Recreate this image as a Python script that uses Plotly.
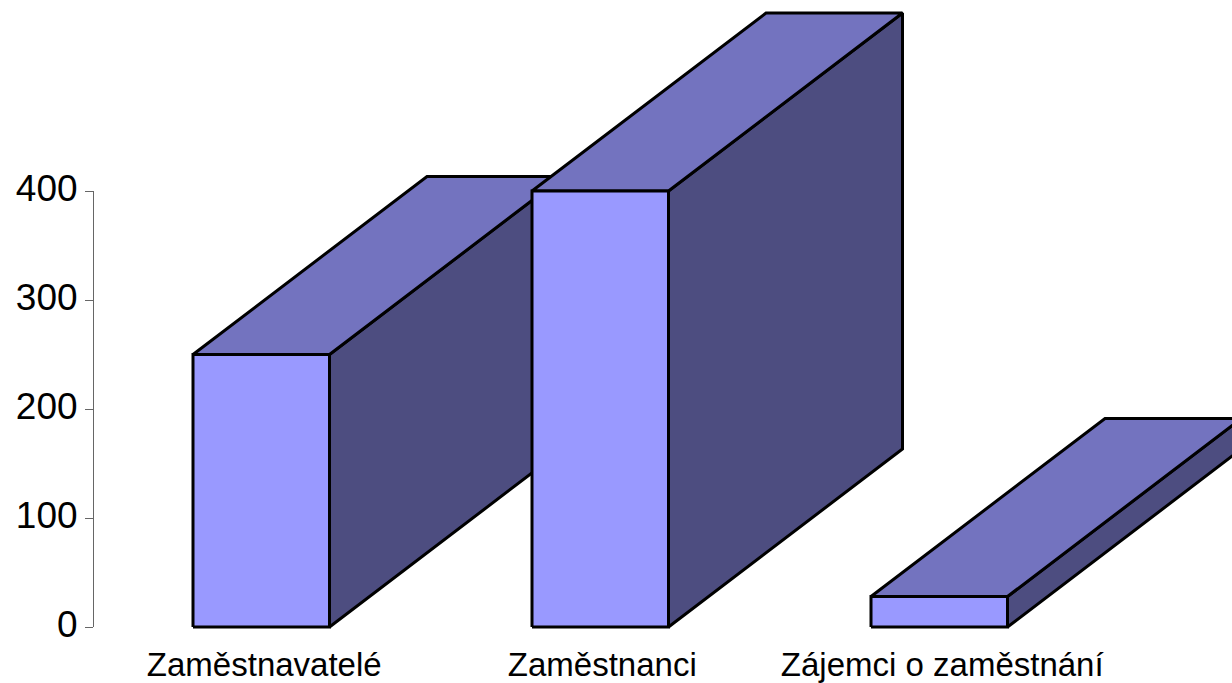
import plotly.graph_objects as go

categories = ["Zaměstnavatelé", "Zaměstnanci", "Zájemci o zaměstnání"]
values = [250, 400, 28]
y_ticks = [0, 100, 200, 300, 400]

W, H = 1232, 683
Y0_PX, Y400_PX = 627, 191
PX_PER_UNIT = (Y0_PX - Y400_PX) / 400
FIRST_PX, STEP_PX, BAR_PX = 261.25, 339, 136.5
DEPTH_X = 234 / STEP_PX
DEPTH_Y = 178 / PX_PER_UNIT
HALF = BAR_PX / STEP_PX / 2
FRONT, TOP, SIDE = "#9999FF", "#7373BF", "#4D4D80"
LABEL_SHIFT = [3 / STEP_PX, 2 / STEP_PX, 3 / STEP_PX]

fig = go.Figure()


def face(xs, ys, color):
    fig.add_trace(go.Scatter(
        x=xs + xs[:1], y=ys + ys[:1], mode="lines", fill="toself", fillcolor=color,
        line=dict(color="black", width=3), hoverinfo="skip", showlegend=False,
        xaxis="x", yaxis="y",
    ))


for i, v in enumerate(values):
    l, r = i - HALF, i + HALF
    face([r, r + DEPTH_X, r + DEPTH_X, r], [0, DEPTH_Y, v + DEPTH_Y, v], SIDE)
    face([l, r, r + DEPTH_X, l + DEPTH_X], [v, v, v + DEPTH_Y, v + DEPTH_Y], TOP)
    face([l, r, r, l], [0, 0, v, v], FRONT)

# invisible trace that keeps the value axis on its own short domain
fig.add_trace(go.Scatter(x=[0], y=[0], mode="markers", marker=dict(opacity=0),
                         xaxis="x", yaxis="y2", showlegend=False, hoverinfo="skip"))

y_bottom = (H - Y0_PX) / H
fig.update_layout(
    width=W, height=H, autosize=False,
    margin=dict(l=0, r=0, t=0, b=0),
    paper_bgcolor="white", plot_bgcolor="rgba(0,0,0,0)",
    font=dict(family="Liberation Sans, Arial, sans-serif", color="black"),
    xaxis=dict(
        domain=[0, 1], automargin=False,
        range=[-FIRST_PX / STEP_PX, (W - FIRST_PX) / STEP_PX],
        tickvals=[i + s for i, s in enumerate(LABEL_SHIFT)], ticktext=categories,
        tickfont=dict(size=33), ticks="outside", ticklen=8, tickcolor="rgba(0,0,0,0)",
        showgrid=False, zeroline=False, showline=False, anchor="y2", fixedrange=True,
    ),
    yaxis=dict(
        domain=[0, 1], automargin=False,
        range=[-(H - Y0_PX) / PX_PER_UNIT, Y0_PX / PX_PER_UNIT],
        visible=False, showgrid=False, zeroline=False, fixedrange=True,
    ),
    yaxis2=dict(
        domain=[y_bottom, (H - Y400_PX) / H], automargin=False,
        range=[0, 400], tickvals=y_ticks, anchor="free", position=93 / W,
        side="left", showline=True, linecolor="#666666", linewidth=1,
        ticks="outside", ticklen=8, tickcolor="#666666", tickwidth=1,
        ticklabelshift=-3,
        tickfont=dict(size=37), showgrid=False, zeroline=False, fixedrange=True,
    ),
)

fig.write_html(
    "out.html",
    config=dict(displayModeBar=False, responsive=False),
    post_script="document.body.style.margin='0';document.body.style.overflow='hidden';",
)
